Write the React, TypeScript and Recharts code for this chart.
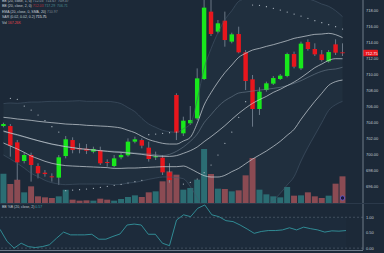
import React from 'react';
import { ComposedChart, Bar, Line, Area, XAxis, YAxis, ReferenceLine, ReferenceDot, ReferenceArea, Cell } from 'recharts';

// candles (50 sessions)
const opens = [
  703.62, 703.62, 701.58, 699.25, 700.0, 698.62, 697.79, 697.33, 697.17, 699.87,
  701.87, 700.87, 700.79, 700.42, 700.62, 699.12, 698.62, 699.71, 699.96, 701.67,
  701.87, 700.92, 699.71, 699.67, 697.83, 707.5, 702.71, 703.96, 704.58, 709.5,
  717.92, 715.42, 716.79, 714.17, 715.12, 712.83, 709.46, 705.75, 708.12, 708.92,
  709.5, 709.87, 712.62, 710.83, 714.12, 713.25, 712.58, 711.71, 713.83, 712.83,
];
const closes = [
  703.87, 701.17, 699.08, 700.0, 698.75, 697.71, 697.62, 697.21, 699.71, 701.96,
  700.62, 700.71, 700.54, 700.75, 698.96, 699.0, 699.58, 700.0, 701.67, 701.96,
  701.17, 699.5, 699.83, 697.83, 696.87, 702.79, 704.29, 704.37, 709.58, 718.42,
  715.12, 716.46, 714.37, 715.08, 712.83, 709.25, 705.75, 707.92, 708.96, 709.62,
  709.92, 712.62, 711.04, 713.92, 713.25, 712.58, 711.87, 712.87, 712.79, 712.75,
];
const highs = [
  704.04, 703.87, 701.87, 700.29, 700.29, 698.96, 698.12, 697.71, 700.0, 702.37,
  702.21, 701.46, 701.37, 701.04, 701.04, 699.46, 700.0, 700.29, 702.08, 702.29,
  702.08, 701.67, 700.42, 700.0, 698.96, 707.71, 704.79, 706.12, 710.83, 719.79,
  719.58, 716.87, 717.92, 715.29, 716.04, 713.12, 710.0, 708.46, 709.17, 709.87,
  710.12, 712.79, 712.92, 714.17, 714.46, 713.96, 713.12, 713.12, 714.46, 713.96,
];
const lows = [
  703.46, 699.79, 696.87, 698.96, 696.67, 697.08, 697.29, 696.67, 696.25, 699.58,
  700.21, 700.21, 700.12, 700.21, 698.75, 698.54, 698.46, 699.46, 699.79, 701.46,
  700.83, 699.17, 699.37, 697.5, 696.54, 701.87, 702.37, 703.75, 704.37, 709.37,
  714.87, 715.21, 713.54, 713.96, 712.71, 708.12, 703.54, 705.0, 707.92, 708.75,
  709.37, 709.71, 710.83, 710.62, 713.04, 712.37, 711.67, 711.54, 712.5, 712.37,
];
const volumes = [
  88, 57, 70, 32, 50, 20, 17, 15, 20, 40,
  10, 7, 8, 7, 13, 10, 7, 12, 18, 23,
  18, 32, 35, 65, 95, 85, 40, 45, 70, 162,
  87, 43, 42, 35, 38, 83, 135, 40, 26, 20,
  17, 48, 22, 23, 32, 20, 15, 22, 58, 80,
];

// bollinger bands (1 and 2 dev), ema, sar
const bbMid = [
  703.0, 702.75, 702.54, 702.29, 702.04, 701.79, 701.58, 701.37, 701.21, 701.04,
  700.92, 700.79, 700.71, 700.62, 700.54, 700.46, 700.37, 700.33, 700.25, 700.17,
  700.08, 699.96, 699.87, 699.83, 699.83, 699.92, 700.21, 700.54, 701.0, 701.67,
  702.29, 702.96, 703.67, 704.46, 705.21, 705.87, 706.46, 706.92, 707.33, 707.83,
  708.21, 708.67, 709.12, 709.67, 710.29, 710.92, 711.37, 711.83, 712.04, 712.03,
];
const bbUp1 = [
  704.71, 704.62, 704.5, 704.42, 704.33, 704.21, 704.12, 704.04, 703.96, 703.87,
  703.83, 703.79, 703.71, 703.67, 703.62, 703.58, 703.5, 703.37, 703.08, 702.79,
  702.33, 701.92, 701.67, 701.46, 701.37, 701.37, 701.75, 702.21, 703.96, 706.25,
  707.79, 709.12, 710.29, 711.25, 712.21, 712.71, 713.12, 713.33, 713.58, 713.79,
  714.04, 714.29, 714.58, 714.75, 714.92, 715.08, 715.12, 715.21, 715.04, 714.67,
];
const bbLow1 = [
  701.5, 701.12, 700.75, 700.33, 699.87, 699.54, 699.21, 698.96, 698.79, 698.67,
  698.62, 698.58, 698.54, 698.5, 698.46, 698.42, 698.33, 698.33, 698.37, 698.37,
  698.42, 698.46, 698.5, 698.54, 698.54, 698.54, 698.62, 698.29, 697.83, 697.42,
  697.25, 697.25, 697.46, 697.92, 698.33, 698.92, 699.5, 700.0, 700.5, 701.08,
  701.71, 702.46, 703.21, 704.46, 705.62, 706.71, 707.71, 708.71, 709.17, 709.37,
];
const bbUp2 = [
  706.42, 706.5, 706.46, 706.54, 706.62, 706.62, 706.67, 706.71, 706.71, 706.71,
  706.75, 706.79, 706.71, 706.71, 706.71, 706.71, 706.62, 706.42, 705.92, 705.42,
  704.58, 703.87, 703.46, 703.08, 702.92, 702.83, 703.29, 703.87, 706.92, 710.83,
  713.29, 715.29, 716.92, 718.04, 719.21, 719.54, 719.79, 719.75, 719.83, 719.75,
  719.87, 719.92, 720.04, 719.83, 719.54, 719.25, 718.87, 718.58, 718.04, 717.29,
];
const bbLow2 = [
  700.0, 699.5, 698.96, 698.37, 697.71, 697.29, 696.83, 696.54, 696.37, 696.29,
  696.33, 696.37, 696.37, 696.37, 696.37, 696.37, 696.29, 696.33, 696.5, 696.58,
  696.75, 696.96, 697.12, 697.25, 697.25, 697.17, 697.04, 696.04, 694.67, 693.17,
  692.21, 691.54, 691.25, 691.37, 691.46, 691.96, 692.54, 693.08, 693.67, 694.33,
  695.21, 696.25, 697.29, 699.25, 700.96, 702.5, 704.04, 705.58, 706.29, 706.71,
];
const ema20 = [
  702.92, 702.71, 702.46, 702.25, 702.0, 701.79, 701.54, 701.33, 701.17, 701.04,
  700.92, 700.79, 700.71, 700.62, 700.54, 700.5, 700.46, 700.42, 700.33, 700.25,
  700.17, 700.12, 700.04, 699.92, 700.08, 700.46, 701.0, 701.71, 702.62, 704.04,
  705.04, 706.04, 706.79, 707.29, 707.75, 707.87, 708.0, 708.12, 708.21, 708.33,
  708.46, 708.67, 708.96, 709.29, 709.71, 710.12, 710.46, 710.67, 710.75, 710.97,
];
const sar = [
  null, 707.08, 706.96, 706.12, 705.62, 705.0, 704.29, 703.54, 702.87, 695.54,
  695.62, 695.67, 695.75, 695.83, 695.96, 696.08, 696.21, 696.33, 696.5, 696.67,
  696.83, 702.54, 702.62, 702.71, 702.79, 702.87, 696.37, 696.58, 697.0, 697.79,
  698.75, 700.0, 701.46, 702.87, 704.71, 706.67, 718.75, 718.71, 718.54, 718.33,
  718.12, 717.87, 717.62, 717.37, 717.08, 716.79, 716.54, 716.29, 716.04, 715.75,
];
const pctB = [
  0.61, 0.22, 0.0, 0.16, 0.05, 0.02, 0.05, 0.11, 0.32, 0.52,
  0.43, 0.43, 0.43, 0.45, 0.29, 0.29, 0.38, 0.46, 0.75, 0.78,
  0.75, 0.45, 0.45, 0.16, 0.08, 0.91, 1.08, 1.02, 1.29, 1.4,
  1.08, 1.02, 0.89, 0.86, 0.75, 0.62, 0.48, 0.54, 0.57, 0.57,
  0.59, 0.66, 0.59, 0.68, 0.63, 0.59, 0.52, 0.56, 0.55, 0.57,
];

const priceTicks = [696, 698, 700, 702, 704, 706, 708, 710, 712, 714, 716, 718];
const pctTicks = [0, 0.5, 1];

const BG = '#1c2938';
const GREEN = '#18e81c';
const RED = '#e8161d';
const AXIS = '#8592a0';
const TXT = '#c2cad2';
const FONT = '"Liberation Sans", Arial, sans-serif';

const rows = opens.map((o, i) => ({
  t: String(i + 1),
  o,
  c: closes[i],
  h: highs[i],
  l: lows[i],
  v: volumes[i],
  mid: bbMid[i],
  up1: bbUp1[i],
  lo1: bbLow1[i],
  up2: bbUp2[i],
  lo2: bbLow2[i],
  ema: ema20[i],
  sar: sar[i],
  b: pctB[i],
}));

const Candle = (props: any) => {
  const { x, y, width, height, payload } = props;
  const top = Math.min(y, y + height);
  const bot = Math.max(y, y + height);
  const range = payload.h - payload.l;
  const k = range > 0 ? (bot - top) / range : 0;
  const yO = top + (payload.h - payload.o) * k;
  const yC = top + (payload.h - payload.c) * k;
  const color = payload.c >= payload.o ? GREEN : RED;
  const cx = x + width / 2;
  const bw = width * 0.74;
  return (
    <g>
      <line x1={cx} x2={cx} y1={top} y2={bot} stroke="#8d9aa7" strokeWidth={0.7} />
      <rect x={cx - bw / 2} y={Math.min(yO, yC)} width={bw} height={Math.max(Math.abs(yC - yO), 0.9)} fill={color} />
    </g>
  );
};

const sarDot = (p: any) => {
  if (p.value == null || p.cy == null) return <g key={p.index} />;
  return <circle key={p.index} cx={p.cx} cy={p.cy} r={0.6} fill="#b9c3cc" />;
};

const PriceTag = (p: any) => {
  const vb = p.viewBox;
  const last = closes[closes.length - 1];
  return (
    <g>
      <rect x={vb.x + vb.width} y={vb.y - 3.2} width={15} height={6.4} rx={0.8} fill={RED} />
      <text x={vb.x + vb.width + 2.5} y={vb.y + 1.5} fontSize={4} fill="#fff" fontFamily={FONT}>
        {last.toFixed(2)}
      </text>
    </g>
  );
};

const tick = { fontSize: 4, fill: TXT, fontFamily: FONT };

export default function App() {
  const lastT = rows[rows.length - 1].t;
  const lineProps = { xAxisId: 'p', yAxisId: 'price', type: 'monotone' as const, dot: false, activeDot: false, isAnimationActive: false };
  return (
    <div style={{ position: 'relative', width: 384, height: 253, background: BG, overflow: 'hidden', fontFamily: FONT }}>
      <style>{'body{margin:0;background:' + BG + '}'}</style>
      <ComposedChart width={384} height={203} data={rows} margin={{ top: 0, right: 0, bottom: 0, left: 0 }} barCategoryGap="6%">
        <XAxis dataKey="t" xAxisId="p" hide padding={{ left: 0, right: 17 }} />
        <XAxis dataKey="t" xAxisId="v" hide padding={{ left: 0, right: 17 }} />
        <YAxis
          yAxisId="price"
          orientation="right"
          width={21}
          domain={[694, 719.375]}
          allowDataOverflow
          ticks={priceTicks}
          tickFormatter={(v: number) => v.toFixed(2)}
          tick={tick}
          tickLine={false}
          tickSize={0}
          tickMargin={3}
          axisLine={{ stroke: AXIS, strokeWidth: 0.8 }}
        />
        <YAxis yAxisId="vol" hide domain={[0, 609]} />
        <Area
          xAxisId="p"
          yAxisId="price"
          dataKey={(r: any) => [r.lo2, r.up2]}
          type="monotone"
          fill="rgba(140,175,210,0.07)"
          stroke="none"
          dot={false}
          activeDot={false}
          isAnimationActive={false}
        />
        <Bar xAxisId="v" yAxisId="vol" dataKey="v" isAnimationActive={false} activeBar={false}>
          {rows.map((r, i) => (
            <Cell key={i} fill={r.c >= r.o ? '#2b6d73' : '#8b4b53'} />
          ))}
        </Bar>
        <Line {...lineProps} dataKey="up2" stroke="#44576a" strokeWidth={0.6} />
        <Line {...lineProps} dataKey="lo2" stroke="#44576a" strokeWidth={0.6} />
        <Line {...lineProps} dataKey="ema" stroke="#6c7c8c" strokeWidth={0.6} />
        <Line {...lineProps} dataKey="up1" stroke="#cfd5db" strokeWidth={0.7} />
        <Line {...lineProps} dataKey="mid" stroke="#cfd5db" strokeWidth={0.7} />
        <Line {...lineProps} dataKey="lo1" stroke="#cfd5db" strokeWidth={0.7} />
        <Line xAxisId="p" yAxisId="price" dataKey="sar" stroke="none" dot={sarDot} activeDot={false} isAnimationActive={false} />
        <Bar xAxisId="p" yAxisId="price" dataKey={(r: any) => [r.l, r.h]} shape={Candle} activeBar={false} isAnimationActive={false} />
        <ReferenceDot xAxisId="v" yAxisId="vol" x={lastT} y={15} r={2.2} fill="#1c1840" stroke="#6b5fd0" strokeWidth={0.8} />
        <ReferenceLine xAxisId="p" yAxisId="price" y={closes[closes.length - 1]} stroke="none" ifOverflow="visible" label={<PriceTag />} />
      </ComposedChart>
      <div style={{ height: 1, background: '#2b394a' }} />
      <ComposedChart width={384} height={48} data={rows} margin={{ top: 0, right: 0, bottom: 2, left: 0 }}>
        <XAxis dataKey="t" hide padding={{ left: 0, right: 17 }} />
        <YAxis
          orientation="right"
          width={21}
          domain={[-0.06, 1.43]}
          allowDataOverflow
          ticks={pctTicks}
          tickFormatter={(v: number) => v.toFixed(2)}
          tick={tick}
          tickLine={false}
          tickSize={0}
          tickMargin={3}
          axisLine={{ stroke: AXIS, strokeWidth: 0.8 }}
        />
        <ReferenceArea y1={0} y2={1} fill="rgba(90,140,170,0.05)" stroke="none" />
        <ReferenceLine y={1} stroke="#5a6878" strokeDasharray="2 2" strokeWidth={0.6} />
        <ReferenceLine y={0} stroke="#5a6878" strokeDasharray="2 2" strokeWidth={0.6} />
        <Line dataKey="b" type="linear" stroke="#36a3ab" strokeWidth={0.8} dot={false} activeDot={false} isAnimationActive={false} />
      </ComposedChart>
      <div style={{ position: 'absolute', left: 0, top: 250, width: 363, height: 1, background: '#6f7c8a' }} />

      <div style={{ position: 'absolute', left: 2, top: -1, fontSize: 3.5, lineHeight: '5.4px', color: TXT, whiteSpace: 'nowrap' }}>
        <div>
          BB (20, close, 1, 0) <span style={{ color: '#9aa4ae' }}>712.03 &nbsp;714.67 &nbsp;709.37</span>
        </div>
        <div>
          BB (20, close, 2, 0) <span style={{ color: '#b8323a' }}>712.03</span>{' '}
          <span style={{ color: '#4d8a90' }}>717.29 &nbsp;706.71</span>
        </div>
        <div>
          EMA (20, close, 0, SMA, 20) <span style={{ color: '#7a8794' }}>710.97</span>
        </div>
        <div>
          SAR (0.02, 0.02, 0.2) <span style={{ color: '#e6eaee' }}>715.75</span>
        </div>
        <div>
          Vol <span style={{ color: '#e0444a' }}>167.26K</span>
        </div>
      </div>
      <div style={{ position: 'absolute', left: 2, top: 205, fontSize: 3.5, lineHeight: '5px', color: TXT, whiteSpace: 'nowrap' }}>
        BB %B (20, close, 2) <span style={{ color: '#36a3ab' }}>0.57</span>
      </div>
    </div>
  );
}
